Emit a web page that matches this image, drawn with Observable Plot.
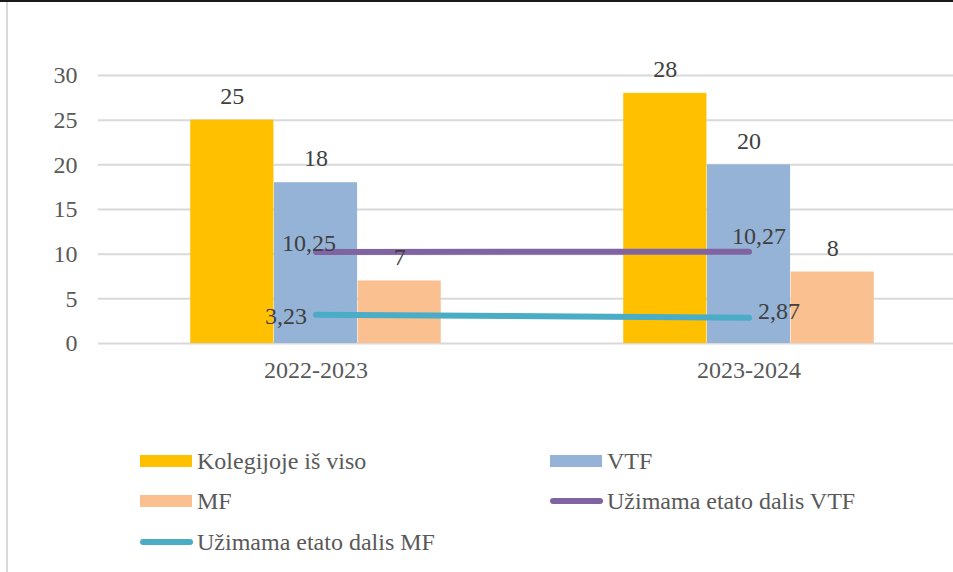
<!DOCTYPE html>
<html>
<head>
<meta charset="utf-8">
<script src="https://cdn.jsdelivr.net/npm/d3@7"></script>
<script src="https://cdn.jsdelivr.net/npm/@observablehq/plot@0.6"></script>
<style>
  html, body { margin: 0; padding: 0; background: #fff; }
  #frame { position: relative; width: 953px; height: 572px; overflow: hidden; background: #fff; }
  #topline { position: absolute; left: 0; top: 0; width: 953px; height: 2px; background: #1a1a1a; z-index: 3; }
  #leftline { position: absolute; left: 6px; top: 2px; width: 2px; height: 570px; background: #d9d9d9; z-index: 3; }
  #chart { position: absolute; left: 0; top: 0; width: 975px; }
  #chart svg { max-width: none !important; }
  #legend { position: absolute; left: 0; top: 400px; width: 953px; height: 172px; font-size: 24px; color: #595959; }
  .item { position: absolute; height: 30px; line-height: 30px; white-space: nowrap; }
  .sw { position: absolute; }
  .lab { position: absolute; top: 0; }
</style>
</head>
<body>
<div id="frame">
  <div id="chart"></div>
  <div id="legend"></div>
  <div id="topline"></div>
  <div id="leftline"></div>
</div>
<script>
// ---- data ----
const years = ["2022-2023", "2023-2024"];
const kolegijos = [25, 28];
const vtf = [18, 20];
const mf = [7, 8];
const vtfShare = [10.25, 10.27];
const mfShare = [3.23, 2.87];
const yTicks = [0, 5, 10, 15, 20, 25, 30];
const seriesNames = ["Kolegijoje iš viso", "VTF", "MF", "Užimama etato dalis VTF", "Užimama etato dalis MF"];
const colors = ["#ffc000", "#95b3d7", "#fac090", "#8064a2", "#4bacc6"];

const FONT = `"Liberation Serif", Tinos, "Times New Roman", serif`;
const setFont = (el) => el.style.setProperty("font-family", FONT, "important");

// ---- layout ----
const W = 975, H = 400, mL = 98, mR = 10, mT = 75, mB = 57;
const bw = (W - mL - mR) / years.length;   // band width
const barW = bw * 0.193;
const groupOff = (bw - 3 * barW) / 2;

const rows = (vals) => years.map((y, i) => ({year: y, value: vals[i]}));
const fmt = (v) => String(v).replace(".", ",");
const barSeries = [kolegijos, vtf, mf];

const marks = [
  Plot.gridY(yTicks, {stroke: "#d9d9d9", strokeOpacity: 1, strokeWidth: 2}),
  Plot.axisY(yTicks, {tickSize: 0, tickPadding: 21, fontSize: 24, fill: "#595959", tickFormat: d => d}),
  Plot.axisX({tickSize: 0, tickPadding: 17, fontSize: 24, fill: "#595959"})
];
barSeries.forEach((vals, k) => {
  marks.push(Plot.barY(rows(vals), {
    x: "year", y: "value", fill: colors[k],
    insetLeft: groupOff + k * barW,
    insetRight: bw - groupOff - (k + 1) * barW
  }));
});
marks.push(Plot.lineY(rows(vtfShare), {x: "year", y: "value", stroke: colors[3], strokeWidth: 6, strokeLinecap: "round"}));
marks.push(Plot.lineY(rows(mfShare), {x: "year", y: "value", stroke: colors[4], strokeWidth: 6, strokeLinecap: "round"}));
barSeries.forEach((vals, k) => {
  marks.push(Plot.text(rows(vals), {
    x: "year", y: "value", text: d => fmt(d.value),
    dx: (k - 1) * barW, dy: -24, fill: "#404040", fontSize: 24
  }));
});

const lineLabelOffsets = [
  {vals: vtfShare, i: 0, dx: -7, dy: -9, anchor: "middle"},
  {vals: vtfShare, i: 1, dx: 10, dy: -15, anchor: "middle"},
  {vals: mfShare, i: 0, dx: -9, dy: 2, anchor: "end"},
  {vals: mfShare, i: 1, dx: 9, dy: -7, anchor: "start"}
];
lineLabelOffsets.forEach(o => {
  marks.push(Plot.text([rows(o.vals)[o.i]], {
    x: "year", y: "value", text: d => fmt(d.value),
    dx: o.dx, dy: o.dy, textAnchor: o.anchor, fill: "#404040", fontSize: 24
  }));
});

const chart = Plot.plot({
  width: W, height: H,
  marginLeft: mL, marginRight: mR, marginTop: mT, marginBottom: mB,
  style: {fontSize: "24px", background: "transparent", overflow: "visible", maxWidth: "none"},
  x: {type: "band", domain: years, padding: 0, label: null},
  y: {domain: [0, 30], label: null},
  marks
});
chart.querySelectorAll("[font-family]").forEach(el => el.setAttribute("font-family", FONT));
setFont(chart);
chart.querySelectorAll("g, text, tspan").forEach(setFont);
document.getElementById("chart").appendChild(chart);

// ---- legend (HTML below the SVG) ----
const legend = document.getElementById("legend");
setFont(legend);
const legendPos = [
  {x: 140, y: 46}, {x: 550, y: 46},
  {x: 140, y: 86}, {x: 550, y: 86},
  {x: 140, y: 127}
];
seriesNames.forEach((name, k) => {
  const p = legendPos[k];
  const item = document.createElement("div");
  item.className = "item";
  item.style.left = p.x + "px";
  item.style.top = p.y + "px";
  const sw = document.createElement("div");
  sw.className = "sw";
  if (k < 3) {
    sw.style.cssText = `left:0;top:9px;width:52px;height:12px;background:${colors[k]}`;
  } else {
    sw.style.cssText = `left:0;top:12px;width:53px;height:6px;border-radius:3px;background:${colors[k]}`;
  }
  const lab = document.createElement("span");
  lab.className = "lab";
  lab.style.left = "57px";
  setFont(lab);
  lab.textContent = name;
  item.appendChild(sw);
  item.appendChild(lab);
  legend.appendChild(item);
});
</script>
</body>
</html>
